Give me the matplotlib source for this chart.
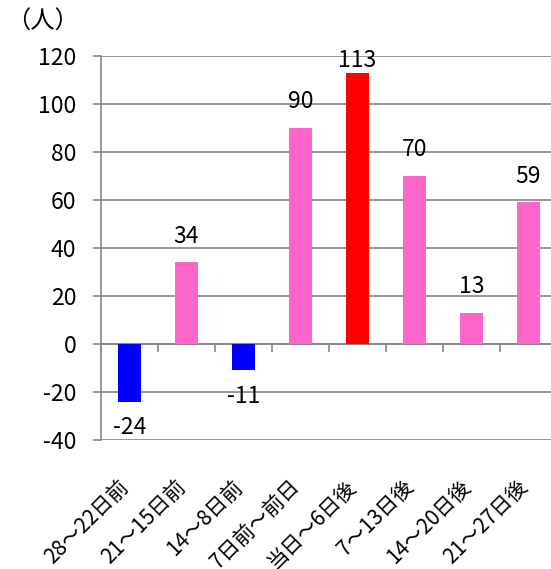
import numpy as np
import matplotlib.pyplot as plt

plt.rcParams['font.family'] = ['Noto Sans CJK JP', 'DejaVu Sans']

categories = ['28～22日前', '21～15日前', '14～8日前', '7日前～前日',
              '当日～6日後', '7～13日後', '14～20日後', '21～27日後']
values = [-24, 34, -11, 90, 113, 70, 13, 59]
bar_colors = ['#0000FF', '#FF66CC', '#0000FF', '#FF66CC',
              '#FF0000', '#FF66CC', '#FF66CC', '#FF66CC']
yticks = [-40, -20, 0, 20, 40, 60, 80, 100, 120]

fs = 16.5
fs_cat = 15
gc = '#868686'
ymin, ymax = -40, 120

fig = plt.figure(figsize=(5.51, 5.69), dpi=100)
ax = fig.add_axes([0.1833, 0.2267, 0.8276, 0.6749])

x = np.arange(len(categories))
ax.bar(x, values, width=0.40, color=bar_colors, zorder=3)

# points per data unit, used to keep the labels inside the plot area
pt_per_unit = ax.get_position().height * 5.69 * 72 / (ymax - ymin)
for xi, v in zip(x, values):
    if v >= 0:
        off = min(19, (ymax - v) * pt_per_unit - 3.5)
    else:
        off = -19
    ax.annotate(str(v), (xi, v), xytext=(0, off), textcoords='offset points',
                ha='center', va='center', fontsize=fs)

ax.set_xlim(-0.5, len(categories) - 0.5)
ax.set_ylim(ymin, ymax)
ax.set_yticks(yticks)
ax.set_yticklabels([str(t) for t in yticks], fontsize=fs)
ax.yaxis.grid(True, color=gc, linewidth=1.2)
ax.set_axisbelow(True)

for s in ['top', 'right']:
    ax.spines[s].set_visible(False)
ax.spines['left'].set_color(gc)
ax.spines['left'].set_linewidth(1.2)
ax.spines['bottom'].set_position(('data', 0))
ax.spines['bottom'].set_color(gc)
ax.spines['bottom'].set_linewidth(1.2)

ax.tick_params(axis='y', direction='out', length=5.8, width=1.2, color=gc, pad=12)
ax.set_xticks(x)
ax.set_xticklabels([])
ax.tick_params(axis='x', which='major', length=0)
ax.set_xticks(np.arange(len(categories) + 1) - 0.5, minor=True)
ax.tick_params(axis='x', which='minor', direction='out', length=5.5, width=1.2, color=gc)

for xi, lab in zip(x, categories):
    ax.annotate(lab, (xi, 0), xycoords=('data', 'axes fraction'),
                xytext=(-3, -31), textcoords='offset points',
                rotation=45, rotation_mode='anchor', ha='right', va='center',
                fontsize=fs_cat)

fig.text(0.012, 0.962, '（人）', fontsize=fs + 1, ha='left', va='center')

fig.savefig('out.png', dpi=100)
